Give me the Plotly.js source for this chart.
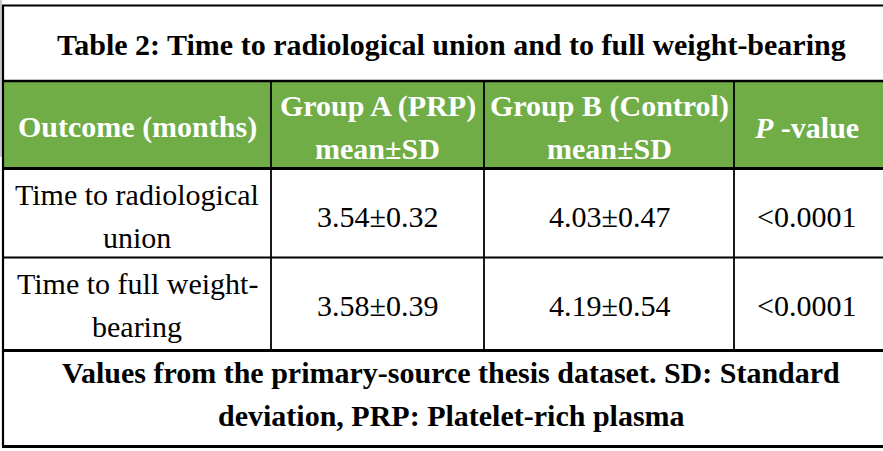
<!DOCTYPE html>
<html>
<head>
<meta charset="utf-8">
<script src="https://cdn.plot.ly/plotly-3.0.1.min.js"></script>
<style>html,body{margin:0;padding:0;background:#fff;}#chart{width:883px;height:451px;}</style>
</head>
<body>
<div id="chart"></div>
<script>
// ---- data ----
const tableTitle = "Table 2: Time to radiological union and to full weight-bearing";
const headers = ["Outcome (months)", "Group A (PRP)<br>mean±SD", "Group B (Control)<br>mean±SD", "<i>P</i> -value"];
const outcomes = ["Time to radiological<br>union", "Time to full weight-<br>bearing"];
const groupA = ["3.54±0.32", "3.58±0.39"];
const groupB = ["4.03±0.47", "4.19±0.54"];
const pValues = ["<0.0001", "<0.0001"];
const footnote = "Values from the primary-source thesis dataset. SD: Standard<br>deviation, PRP: Platelet-rich plasma";

// ---- layout geometry (pixel-like axis units) ----
const W = 883, H = 451;
const colEdges = [3, 271, 484, 734, 879];
const rowEdges = [5.5, 81, 168.5, 257.5, 350.5, 446.5];
const rowCenters = [44, 127, 216, 305, 394];
const lineGap = 43;
const FONT = "Liberation Serif, Times New Roman, serif";
const green = "#70AD47";

const annotations = [];
function addCell(text, xc, yc, opts) {
  const lines = text.split("<br>");
  const n = lines.length;
  lines.forEach((ln, i) => {
    const y = yc + (i - (n - 1) / 2) * lineGap;
    annotations.push({
      x: xc, y: y, xref: "x", yref: "y", showarrow: false,
      xanchor: "center", yanchor: "middle",
      text: opts.bold ? "<b>" + ln + "</b>" : ln,
      font: {family: FONT, size: opts.size || 30, color: opts.color || "#000"}
    });
  });
}
const colCenter = i => (colEdges[i] + colEdges[i + 1]) / 2;
const tableCenter = 451;

addCell(tableTitle, tableCenter, rowCenters[0], {bold: true});
headers.forEach((h, i) => addCell(h, colCenter(i), rowCenters[1], {bold: true, color: "#fff"}));
outcomes.forEach((o, r) => {
  const yc = rowCenters[2 + r];
  addCell(o, colCenter(0), yc, {});
  addCell(groupA[r], colCenter(1), yc, {});
  addCell(groupB[r], colCenter(2), yc, {});
  addCell(pValues[r], colCenter(3), yc, {});
});
addCell(footnote, tableCenter, rowCenters[4], {bold: true});

const shapes = [];
// faint grey edge at the far left of the upper part
shapes.push({type: "rect", xref: "x", yref: "y", x0: 0, x1: 2, y0: 0, y1: 157,
  fillcolor: "#c8c8c8", line: {width: 0}, layer: "below"});
// header fill
shapes.push({type: "rect", xref: "x", yref: "y", x0: 3, x1: W, y0: rowEdges[1], y1: rowEdges[2],
  fillcolor: green, line: {width: 0}, layer: "below"});
// horizontal rules
const hWidths = [2.2, 2.5, 3, 2, 3, 3];
rowEdges.forEach((y, i) => shapes.push({type: "line", xref: "x", yref: "y", x0: 2, x1: W, y0: y, y1: y,
  line: {color: "#000", width: hWidths[i]}}));
// left border
shapes.push({type: "line", xref: "x", yref: "y", x0: 3, x1: 3, y0: rowEdges[0], y1: rowEdges[5],
  line: {color: "#000", width: 2.2}});
// inner verticals
[1, 2, 3].forEach(i => shapes.push({type: "line", xref: "x", yref: "y", x0: colEdges[i], x1: colEdges[i],
  y0: rowEdges[1], y1: rowEdges[4], line: {color: "#000", width: 1.8}}));

const layout = {
  width: W, height: H,
  margin: {l: 0, r: 0, t: 0, b: 0, pad: 0},
  paper_bgcolor: "#fff", plot_bgcolor: "#fff",
  showlegend: false,
  xaxis: {range: [0, W], visible: false, fixedrange: true},
  yaxis: {range: [H, 0], visible: false, fixedrange: true},
  shapes: shapes,
  annotations: annotations
};

Plotly.newPlot("chart", [{x: [0], y: [0], mode: "markers", marker: {opacity: 0}, hoverinfo: "skip"}], layout,
  {staticPlot: true, displayModeBar: false});
</script>
</body>
</html>
